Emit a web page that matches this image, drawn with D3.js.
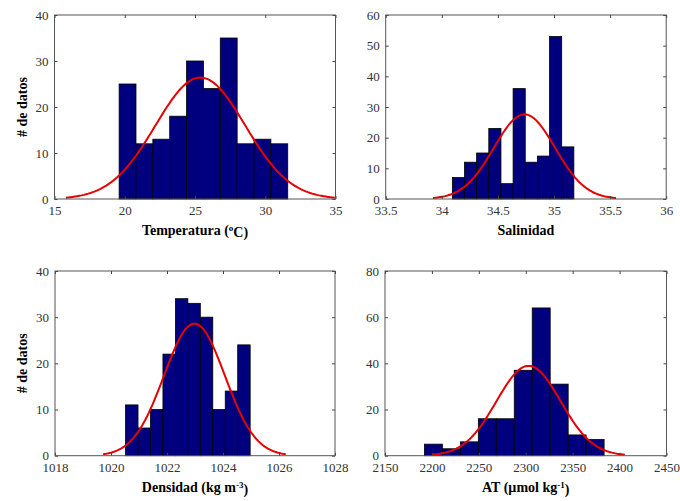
<!DOCTYPE html>
<html>
<head>
<meta charset="utf-8">
<script src="https://cdn.jsdelivr.net/npm/d3@7"></script>
<style>
  body { margin: 0; background: #fff; }
  svg text { font-family: "Liberation Serif", "Times New Roman", Times, serif; }
</style>
</head>
<body>
<svg id="chart" width="680" height="501" font-family="Liberation Serif, Times New Roman, serif"></svg>
<script>
// Histogram counts per bin (10 bins each, 194 samples)
const tempCounts = [25, 12, 13, 18, 30, 24, 35, 12, 13, 12];
const salCounts  = [7, 12, 15, 23, 5, 36, 12, 14, 53, 17];
const densCounts = [11, 6, 10, 22, 34, 33, 30, 10, 14, 24];
const atCounts   = [5, 3, 6, 16, 16, 37, 64, 31, 9, 7];

// Lower edge of the first bin and bin width
const binStarts = [19.6, 34.094, 1020.52, 2192];
const binWidths = [1.2, 0.1083, 0.445, 19.15];

// Normal fit overlay: mean, standard deviation, peak height (counts)
const fitMeans = [25.38, 34.737, 1022.98, 2303];
const fitSds   = [3.19, 0.272, 1.087, 34.2];
const fitPeaks = [26.4, 27.6, 28.6, 38.9];

// Axis ranges and ticks
const xDomains = [[15, 35], [33.5, 36], [1018, 1028], [2150, 2450]];
const xTicks = [
  [15, 20, 25, 30, 35],
  [33.5, 34, 34.5, 35, 35.5, 36],
  [1018, 1020, 1022, 1024, 1026, 1028],
  [2150, 2200, 2250, 2300, 2350, 2400, 2450]
];
const yMaxes = [40, 60, 40, 80];
const yTicks = [
  [0, 10, 20, 30, 40],
  [0, 10, 20, 30, 40, 50, 60],
  [0, 10, 20, 30, 40],
  [0, 20, 40, 60, 80]
];

// Axis titles: [plain text, superscript, trailing text]
const xTitles = [
  ["Temperatura (", "o", "C)"],
  ["Salinidad", "", ""],
  ["Densidad (kg m", "-3", ")"],
  ["AT (\u00b5mol kg", "-1", ")"]
];
const yTitles = ["# de datos", "", "# de datos", ""];

const counts = [tempCounts, salCounts, densCounts, atCounts];

// Panel frames
const frames = [
  { left: 54.5, top: 15,  width: 281, height: 184 },
  { left: 385.7, top: 15, width: 280.5, height: 184 },
  { left: 55,  top: 271,  width: 280, height: 184.7 },
  { left: 385, top: 271,  width: 281.5, height: 184.7 }
];

const FONT = "Liberation Serif, Times New Roman, serif";
const svg = d3.select("#chart");

frames.forEach((f, p) => {
  const g = svg.append("g").attr("transform", `translate(${f.left},${f.top})`);
  const x = d3.scaleLinear().domain(xDomains[p]).range([0, f.width]);
  const y = d3.scaleLinear().domain([0, yMaxes[p]]).range([f.height, 0]);

  // Bars
  const bins = counts[p].map((c, i) => ({
    x0: binStarts[p] + i * binWidths[p],
    x1: binStarts[p] + (i + 1) * binWidths[p],
    c
  }));
  g.selectAll("rect.bar").data(bins).join("rect")
    .attr("class", "bar")
    .attr("x", d => x(d.x0))
    .attr("width", d => x(d.x1) - x(d.x0))
    .attr("y", d => y(d.c))
    .attr("height", d => y(0) - y(d.c))
    .attr("fill", "#00007f")
    .attr("stroke", "#000")
    .attr("stroke-width", 0.8);

  // Fitted normal curve over mean ± 3 sd
  const m = fitMeans[p], s = fitSds[p], pk = fitPeaks[p];
  const xs = d3.range(0, 121).map(k => m - 3 * s + k * (6 * s / 120));
  const line = d3.line()
    .x(v => x(v))
    .y(v => y(pk * Math.exp(-0.5 * ((v - m) / s) ** 2)));
  g.append("path")
    .attr("d", line(xs))
    .attr("fill", "none")
    .attr("stroke", "#e60000")
    .attr("stroke-width", 2);

  // Axes with inward ticks on all four sides
  const styleAxis = sel => {
    sel.attr("font-family", FONT).attr("font-size", 13);
    sel.select(".domain").remove();
    sel.selectAll(".tick line").attr("stroke", "#444");
    sel.selectAll(".tick text").attr("fill", "#333");
  };
  g.append("g").attr("transform", `translate(0,${f.height})`)
    .call(d3.axisBottom(x).tickValues(xTicks[p]).tickSizeInner(-3).tickSizeOuter(0).tickPadding(7)
      .tickFormat(d3.format("")))
    .call(styleAxis);
  g.append("g")
    .call(d3.axisTop(x).tickValues(xTicks[p]).tickSizeInner(-3).tickSizeOuter(0).tickFormat(""))
    .call(styleAxis);
  g.append("g")
    .call(d3.axisLeft(y).tickValues(yTicks[p]).tickSizeInner(-3).tickSizeOuter(0).tickPadding(6))
    .call(styleAxis);
  g.append("g").attr("transform", `translate(${f.width},0)`)
    .call(d3.axisRight(y).tickValues(yTicks[p]).tickSizeInner(-3).tickSizeOuter(0).tickFormat(""))
    .call(styleAxis);

  // Box
  g.append("rect")
    .attr("x", 0).attr("y", 0)
    .attr("width", f.width).attr("height", f.height)
    .attr("fill", "none")
    .attr("stroke", "#555")
    .attr("stroke-width", 1);

  // X title
  const t = xTitles[p];
  const xt = g.append("text")
    .attr("x", f.width / 2)
    .attr("y", f.height + 36)
    .attr("text-anchor", "middle")
    .attr("font-family", FONT)
    .attr("font-weight", "bold")
    .attr("font-size", 14)
    .attr("fill", "#000");
  xt.append("tspan").text(t[0]);
  if (t[1]) {
    xt.append("tspan").attr("dy", "-0.45em").attr("font-size", 9).text(t[1]);
    xt.append("tspan").attr("dy", "0.45em").text(t[2]);
  }

  // Y title
  if (yTitles[p]) {
    g.append("text")
      .attr("transform", `translate(${26.5 - f.left},${f.height / 2}) rotate(-90)`)
      .attr("text-anchor", "middle")
      .attr("font-family", FONT)
      .attr("font-weight", "bold")
      .attr("font-size", 14)
      .attr("fill", "#000")
      .text(yTitles[p]);
  }
});
</script>
</body>
</html>
